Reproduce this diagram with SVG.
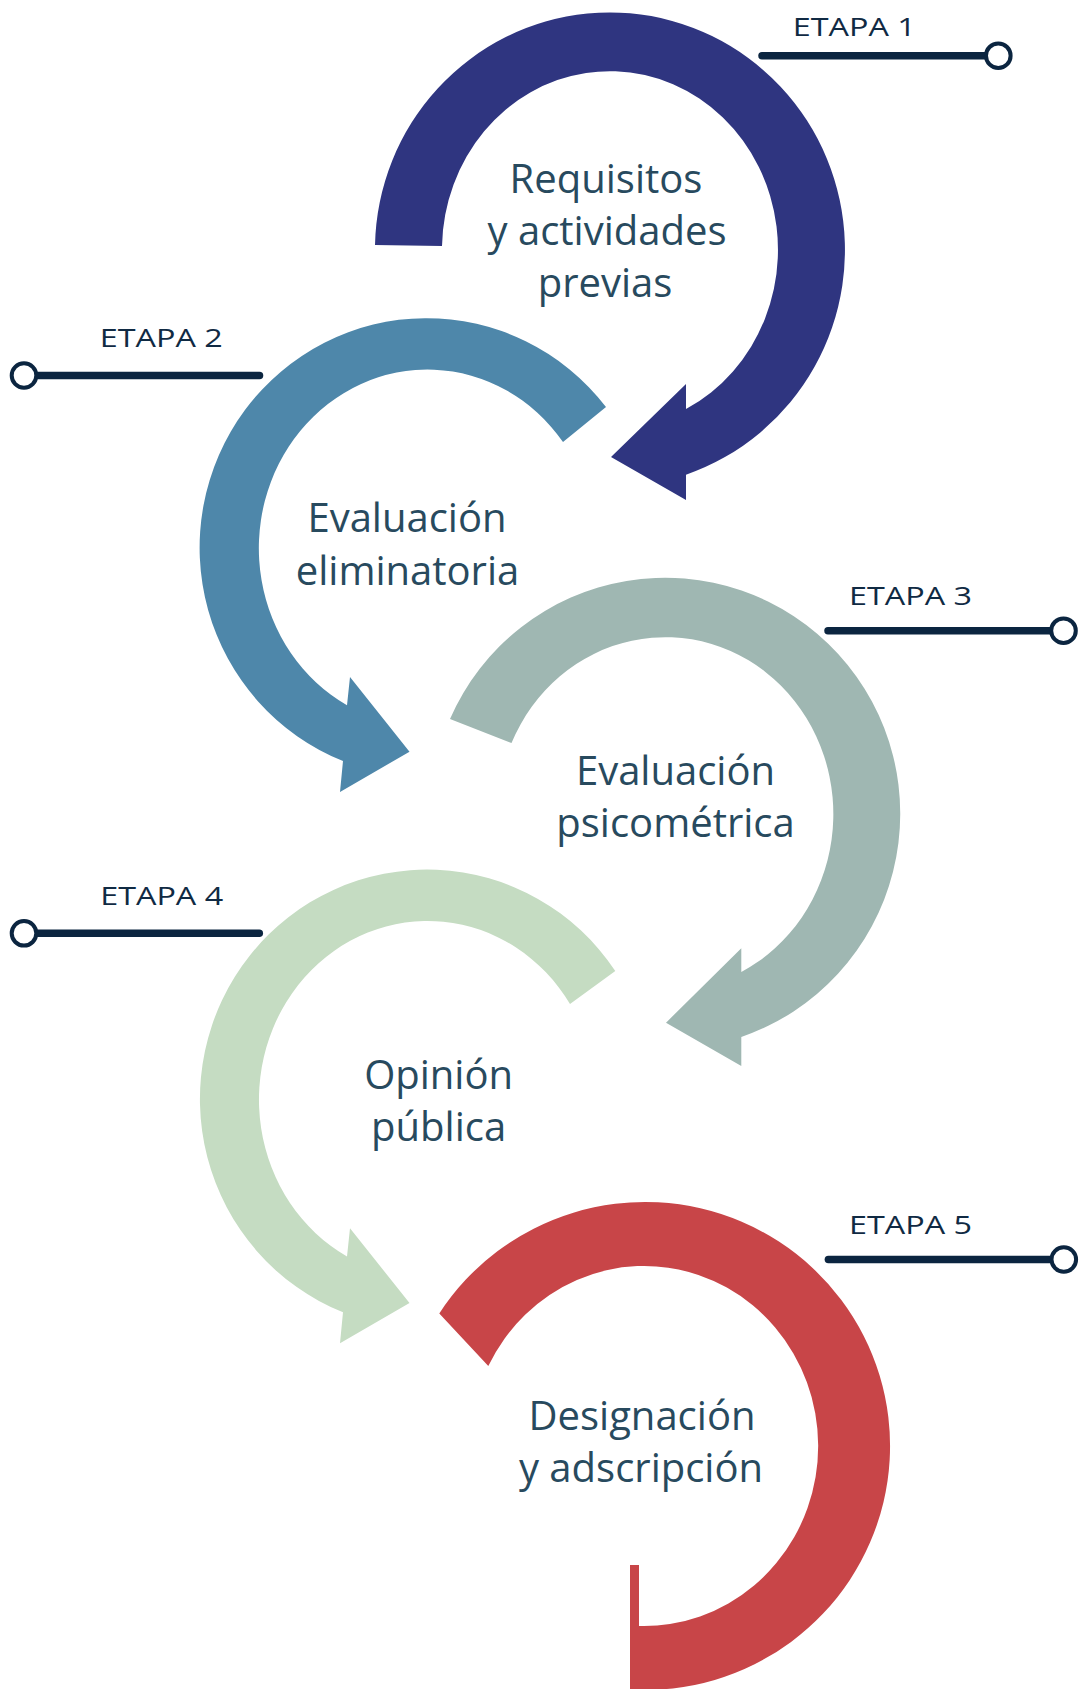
<svg xmlns="http://www.w3.org/2000/svg" width="1081" height="1689" viewBox="0 0 1081 1689">
<style>
.lbl{font-family:"Open Sans","Liberation Sans",sans-serif;font-size:40px;fill:#284a5e;text-anchor:middle}
.etapa{font-family:"Open Sans","Liberation Sans",sans-serif;font-size:25px;fill:#102a43}
.lead{stroke:#0b2540;stroke-width:7.5;stroke-linecap:round;fill:none}
.dot{fill:#fff;stroke:#0b2540;stroke-width:4}
</style>
<rect width="1081" height="1689" fill="#fff"/>
<g id="stage-1">
<path fill="#2f3580" d="M375,245 A235,237.5 0 1 1 686,474.7 L686,500 L611,457 L686,384 L686,409 A168,178.6 0 1 0 442,246 Z"/>
<text class="lbl" x="606" y="193">Requisitos</text>
<text class="lbl" x="607" y="245">y actividades</text>
<text class="lbl" x="605" y="297">previas</text>
</g>
<g id="stage-2">
<path fill="#4e87aa" d="M606,407 A227,229.5 0 1 0 343,761 L340,792 L409.5,751.7 L350,677 L347,705.3 A168.6,178.7 0 1 1 563,442 Z"/>
<text class="lbl" x="407" y="532">Evaluación</text>
<text class="lbl" x="407.5" y="585">eliminatoria</text>
</g>
<g id="stage-3">
<path fill="#9fb7b2" d="M450,719 A235,236 0 1 1 741.3,1037 L741.3,1066 L666,1022.7 L741.3,948.3 L741.3,972 A168,177 0 1 0 511.5,743 Z"/>
<text class="lbl" x="675.5" y="785">Evaluación</text>
<text class="lbl" x="675.5" y="837">psicométrica</text>
</g>
<g id="stage-4">
<path fill="#c5dcc2" d="M615.3,971 A227,229.5 0 1 0 343,1312.3 L340,1343.3 L409.5,1303 L350,1228.3 L347,1256.6 A168.6,178.7 0 1 1 570,1004 Z"/>
<text class="lbl" x="438.6" y="1088.5">Opinión</text>
<text class="lbl" x="438.6" y="1140.5">pública</text>
</g>
<g id="stage-5">
<path fill="#c84548" d="M439.3,1313.5 A245,244 0 1 1 630,1689.5 L630,1565 L639,1565 L639,1625.9 A174,180 0 1 0 488.3,1366 Z"/>
<text class="lbl" x="642" y="1429.5">Designación</text>
<text class="lbl" x="641" y="1481.5">y adscripción</text>
</g>
<g id="connectors">
<line class="lead" x1="762" y1="55.7" x2="990" y2="55.7"/>
<line class="lead" x1="30" y1="375.5" x2="259.5" y2="375.5"/>
<line class="lead" x1="828" y1="630.7" x2="1055" y2="630.7"/>
<line class="lead" x1="30" y1="933.3" x2="259.3" y2="933.3"/>
<line class="lead" x1="828.4" y1="1259.5" x2="1055" y2="1259.5"/>
</g>
<g id="etapa-1">
<circle class="dot" cx="998.3" cy="55.7" r="12.3"/>
<text class="etapa" x="792.8" y="35.7" textLength="123" lengthAdjust="spacingAndGlyphs">ETAPA 1</text>
</g>
<g id="etapa-2">
<circle class="dot" cx="24" cy="375.5" r="12.3"/>
<text class="etapa" x="99.8" y="347.3" textLength="123" lengthAdjust="spacingAndGlyphs">ETAPA 2</text>
</g>
<g id="etapa-3">
<circle class="dot" cx="1063.5" cy="630.7" r="12.3"/>
<text class="etapa" x="849" y="605" textLength="123" lengthAdjust="spacingAndGlyphs">ETAPA 3</text>
</g>
<g id="etapa-4">
<circle class="dot" cx="24" cy="933.3" r="12.3"/>
<text class="etapa" x="100.2" y="905" textLength="123" lengthAdjust="spacingAndGlyphs">ETAPA 4</text>
</g>
<g id="etapa-5">
<circle class="dot" cx="1063.8" cy="1259.5" r="12.3"/>
<text class="etapa" x="849" y="1234" textLength="123" lengthAdjust="spacingAndGlyphs">ETAPA 5</text>
</g>
</svg>
